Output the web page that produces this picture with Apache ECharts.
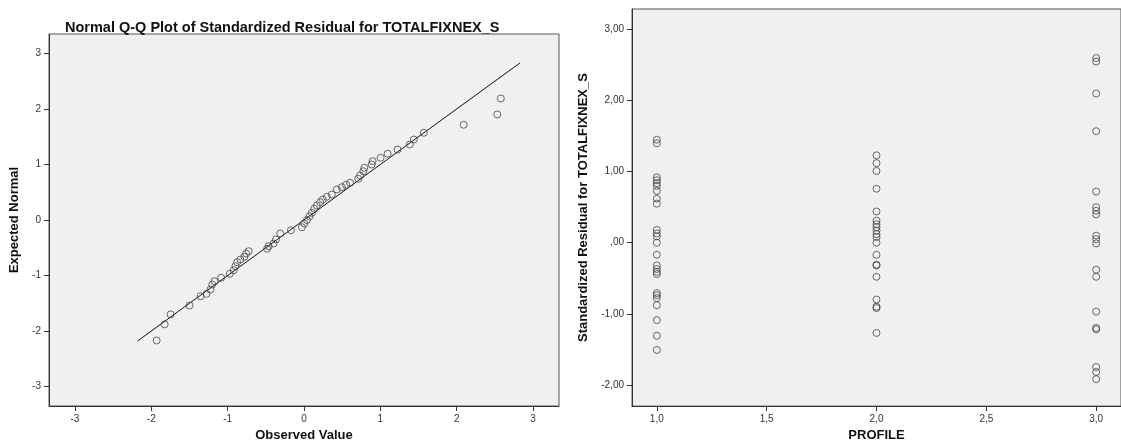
<!DOCTYPE html>
<html><head><meta charset="utf-8">
<script src="https://cdn.jsdelivr.net/npm/echarts@6/dist/echarts.min.js"></script>
<style>html,body{margin:0;padding:0;background:#fff}#c{width:1121px;height:447px}</style>
</head><body><div id="c"></div>
<script>
const qqTitle = 'Normal Q-Q Plot of Standardized Residual for TOTALFIXNEX_S';
const qqObserved = [-1.93,-1.825,-1.747,-1.499,-1.355,-1.277,-1.225,-1.202,-1.172,-1.085,-0.973,-0.920,-0.898,-0.876,-0.833,-0.781,-0.758,-0.725,-0.484,-0.463,-0.398,-0.367,-0.311,-0.171,-0.027,0.003,0.038,0.072,0.103,0.133,0.168,0.211,0.247,0.299,0.364,0.430,0.495,0.551,0.603,0.711,0.734,0.777,0.790,0.886,0.899,1.004,1.095,1.226,1.386,1.439,1.569,2.091,2.531,2.578];
const qqExpected = [-2.17,-1.88,-1.70,-1.54,-1.373,-1.33,-1.252,-1.162,-1.103,-1.041,-0.969,-0.904,-0.832,-0.760,-0.712,-0.663,-0.604,-0.562,-0.519,-0.472,-0.423,-0.351,-0.243,-0.184,-0.130,-0.063,0.0,0.068,0.130,0.202,0.261,0.321,0.369,0.418,0.459,0.550,0.591,0.634,0.670,0.742,0.802,0.879,0.941,1.0,1.059,1.121,1.193,1.270,1.360,1.450,1.571,1.715,1.901,2.189];
const refLine = [-2.18, 2.83];
const qqTicks = [-3,-2,-1,0,1,2,3];

const profileTicks = [1, 1.5, 2, 2.5, 3];
const residTicks = [-2,-1,0,1,2,3];
const profile1Resid = [1.45,1.40,0.92,0.88,0.84,0.80,0.73,0.62,0.55,0.18,0.13,0.09,0.0,-0.17,-0.32,-0.37,-0.41,-0.44,-0.71,-0.74,-0.78,-0.88,-1.09,-1.31,-1.51];
const profile2Resid = [1.23,1.12,1.01,0.76,0.44,0.31,0.26,0.22,0.17,0.12,0.08,0.0,-0.17,-0.31,-0.32,-0.48,-0.80,-0.90,-0.92,-1.27];
const profile3Resid = [2.60,2.55,2.10,1.57,0.72,0.50,0.45,0.40,0.10,0.05,-0.01,-0.38,-0.48,-0.97,-1.20,-1.22,-1.75,-1.82,-1.92];

const FONT = 'Liberation Sans';
const chart = echarts.init(document.getElementById('c'), null, {renderer:'canvas'});
const pts = (xs, ys) => xs.map((x,i)=>[x, ys[i]]);
const grp = (p, vals) => vals.map(v=>[p, v]);
const circle = {color:'rgba(0,0,0,0)', borderColor:'#444', borderWidth:1};
const axisCommon = {
  axisLine:{show:true, onZero:false, lineStyle:{color:'#333', width:1}},
  axisTick:{show:true, length:5, lineStyle:{color:'#333'}},
  splitLine:{show:false},
  nameTextStyle:{fontFamily:FONT, fontWeight:'bold', fontSize:13, color:'#111'}
};
const labelStyle = {fontFamily:FONT, fontSize:10, color:'#333', margin:8};

chart.setOption({
  animation:false,
  backgroundColor:'#fff',
  title:{text:qqTitle, left:60, top:15, textStyle:{fontFamily:FONT, fontWeight:'bold', fontSize:14.5, color:'#111'}},
  grid:[
    {left:49, top:34, width:510, height:372, show:true, backgroundColor:'#f0f0f0', borderColor:'#555', borderWidth:1},
    {left:632, top:9, width:495, height:398, show:true, backgroundColor:'#f0f0f0', borderColor:'#555', borderWidth:1}
  ],
  xAxis:[
    Object.assign({}, axisCommon, {gridIndex:0, type:'value', min:-3.34, max:3.34,
      name:'Observed Value', nameLocation:'middle', nameGap:22,
      axisLabel:Object.assign({}, labelStyle, {customValues:qqTicks, formatter:v=>String(v)}),
      axisTick:Object.assign({}, axisCommon.axisTick, {customValues:qqTicks})}),
    Object.assign({}, axisCommon, {gridIndex:1, type:'value', min:0.887, max:3.113,
      name:'PROFILE', nameLocation:'middle', nameGap:22,
      axisLabel:Object.assign({}, labelStyle, {customValues:profileTicks, formatter:v=>v.toFixed(1).replace('.', ',')}),
      axisTick:Object.assign({}, axisCommon.axisTick, {customValues:profileTicks})})
  ],
  yAxis:[
    Object.assign({}, axisCommon, {gridIndex:0, type:'value', min:-3.35, max:3.35,
      name:'Expected Normal', nameLocation:'middle', nameGap:28,
      axisLabel:Object.assign({}, labelStyle, {customValues:qqTicks, formatter:v=>String(v)}),
      axisTick:Object.assign({}, axisCommon.axisTick, {customValues:qqTicks})}),
    Object.assign({}, axisCommon, {gridIndex:1, type:'value', min:-2.3, max:3.29,
      name:'Standardized Residual for TOTALFIXNEX_S', nameLocation:'middle', nameGap:42,
      axisLabel:Object.assign({}, labelStyle, {customValues:residTicks, formatter:v=> v===0 ? ',00' : v.toFixed(2).replace('.', ',')}),
      axisTick:Object.assign({}, axisCommon.axisTick, {customValues:residTicks})})
  ],
  series:[
    {type:'line', xAxisIndex:0, yAxisIndex:0, data:[[refLine[0],refLine[0]],[refLine[1],refLine[1]]], symbol:'none', lineStyle:{color:'#111', width:1}, silent:true, z:1},
    {type:'scatter', xAxisIndex:0, yAxisIndex:0, data:pts(qqObserved, qqExpected), symbol:'circle', symbolSize:7, itemStyle:circle, z:2},
    {type:'scatter', xAxisIndex:1, yAxisIndex:1, data:grp(1, profile1Resid).concat(grp(2, profile2Resid), grp(3, profile3Resid)), symbol:'circle', symbolSize:7, itemStyle:circle, z:2}
  ]
});
</script></body></html>
